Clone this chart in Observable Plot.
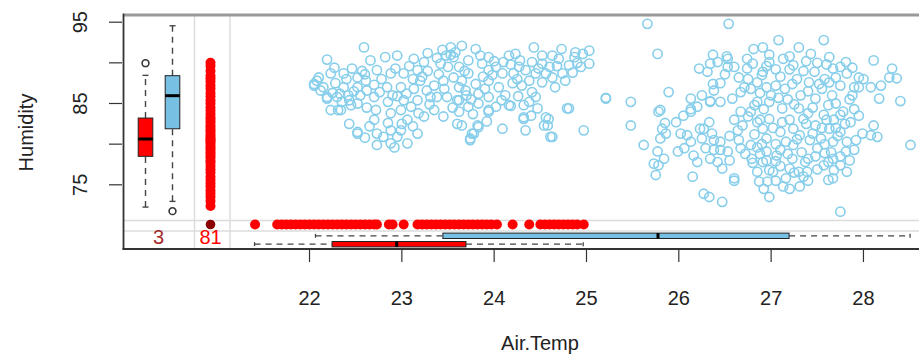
<!DOCTYPE html>
<html><head><meta charset="utf-8">
<script src="https://cdn.jsdelivr.net/npm/d3@7"></script>
<script src="https://cdn.jsdelivr.net/npm/@observablehq/plot@0.6"></script>
<style>
body{margin:0;background:#fff}
#chart{width:919px;height:363px;overflow:hidden}
svg{overflow:hidden}
</style>
</head><body><div id="chart"></div>
<script>
// ---- data ----
// observed pairs [Air.Temp, Humidity]
const observed = [
[22.59,91.9],[22.19,90.4],[22.05,87.4],[22.10,88.2],[22.23,88.7],[22.37,88.7],[22.46,89.3],[22.52,88.2],[22.61,87.8],
[22.19,85.8],[22.30,85.8],[22.43,85.4],[22.52,85.0],[22.23,84.2],[22.34,84.2],[22.43,82.5],[22.52,81.5],[22.66,90.3],
[22.82,90.7],[22.95,90.9],[23.13,90.5],[23.24,90.1],[22.73,89.1],[22.88,88.7],[23.02,88.7],[23.17,89.1],[22.84,87.0],
[22.99,87.0],[23.13,86.8],[22.70,85.8],[23.02,85.4],[23.17,85.4],[23.31,85.8],[22.72,84.2],[22.70,83.0],[22.88,83.8],
[22.99,84.2],[23.06,83.0],[22.73,81.3],[22.88,81.7],[22.99,81.7],[23.17,81.3],[22.73,79.9],[22.88,80.1],[23.06,80.1],
[22.80,80.9],[22.95,80.9],[23.24,83.4],[23.35,84.2],[23.42,89.9],[23.53,91.9],[23.56,90.7],[23.45,87.8],[23.56,88.2],
[23.38,85.8],[23.49,85.8],[23.60,85.4],[23.45,83.4],[23.60,82.5],[22.52,87.0],[22.37,87.0],[22.62,86.6],[22.12,86.6],
[22.52,81.3],[23.74,80.7],[23.78,81.3],[23.65,82.3],[23.82,82.3],[23.94,84.0],[24.09,81.9],[24.18,84.7],[24.34,81.7],
[24.32,83.3],[24.56,83.3],[24.58,82.3],[24.61,80.9],[24.79,84.4],[24.97,81.7],[25.21,85.7],
[22.05,87.2],[22.08,87.8],[22.19,85.6],[22.31,84.2],[22.28,87.5],[22.40,88.0],[22.33,86.2],[22.48,86.5],[22.57,89.0],
[22.45,84.8],[22.27,89.4],[22.62,84.5],[22.78,88.0],[22.93,89.3],[23.08,89.6],[23.20,87.8],[22.90,86.0],[23.10,84.6],
[23.27,86.6],[23.22,88.3],[23.40,88.6],[23.50,89.5],[23.62,87.0],[23.46,86.8],[23.35,87.2],[23.70,86.0],[23.55,84.5],
[23.68,89.0],[23.48,90.9],[23.58,91.3],
[22.15,87.0],[22.25,86.3],[22.35,85.2],[22.42,86.0],[22.55,86.0],[22.60,88.6],[22.70,87.3],[22.76,86.4],[22.85,85.2],
[22.95,85.9],[23.05,86.2],[23.12,88.0],[23.28,89.0],[23.30,84.9],[23.18,83.8],[23.00,82.5],[22.85,82.6],[22.65,82.2],
[23.12,82.2],[22.60,80.8],[22.92,79.6],[23.38,90.6],[23.28,91.2],[23.44,91.6],[23.85,90.9],[23.98,88.5],[24.10,90.1],
[24.25,88.0],[24.48,89.3],[24.68,89.6],[24.88,91.3],[24.73,91.7],[24.20,87.5],[23.90,86.8],[24.08,85.4],[24.26,85.9],
[23.77,83.7],[23.92,82.8],
[23.65,92.1],[23.80,91.7],[23.72,90.3],[23.53,91.0],[23.94,90.7],[24.02,89.5],[24.16,90.9],[24.23,91.1],[24.43,91.9],
[24.52,90.9],[24.63,90.9],[24.70,90.5],[24.87,90.7],[24.96,91.1],[25.03,91.5],[25.03,89.9],[24.94,89.5],[24.81,89.7],
[24.74,88.7],[24.63,88.2],[24.66,87.0],[24.77,87.8],[24.52,89.9],[24.41,90.1],[24.34,89.1],[24.27,89.5],[24.21,88.7],
[24.45,88.7],[24.56,88.7],[24.38,87.8],[24.52,87.6],[24.09,88.7],[23.94,89.1],[23.87,89.9],[23.72,88.7],[23.62,89.5],
[23.65,87.8],[23.80,87.4],[23.94,87.8],[23.69,86.6],[23.83,86.2],[23.94,85.8],[23.62,85.4],[23.72,84.6],[23.83,85.0],
[24.41,86.4],[24.45,85.8],[24.38,85.2],[24.32,84.8],[24.16,84.8],[23.94,84.2],[23.62,84.0],[23.83,82.1],[23.76,81.3],
[23.74,80.5],[24.32,83.1],[24.54,82.3],[24.59,83.1],[24.63,80.9],[24.81,84.4],[25.21,85.6],
[24.05,87.0],[24.12,86.0],[23.88,88.3],[24.30,87.2],[24.60,89.5],[24.90,90.0],[24.85,88.8],[24.28,90.3],[24.00,90.2],
[24.18,89.8],[23.75,85.5],[24.02,84.6],[24.47,84.4],[24.40,83.5],
[25.66,94.8],[26.54,94.8],[25.77,91.1],[25.48,85.2],[25.89,86.4],[25.78,84.0],[25.48,82.3],[25.62,79.9],[25.97,82.7],
[25.82,81.9],[25.86,81.3],[25.80,80.7],[25.77,79.1],[25.73,77.6],[25.75,76.2],[25.84,78.2],[25.99,79.1],[26.02,81.3],
[26.09,81.1],[26.13,80.3],[26.06,79.5],[26.16,78.6],[26.20,77.8],[26.15,76.0],[26.13,85.6],[26.13,84.0],[26.22,89.3],
[26.31,88.9],[26.34,89.9],[26.42,90.1],[26.53,90.5],[26.53,89.5],[26.60,89.5],[26.38,86.6],[26.34,85.2],[26.45,85.2],
[26.33,82.7],[26.27,81.9],[26.36,81.3],[26.38,80.5],[26.29,79.5],[26.38,79.3],[26.45,79.3],[26.53,79.1],[26.34,78.2],
[26.42,77.8],[26.47,77.0],[26.27,73.9],[26.33,73.5],[26.47,72.9],[26.60,75.8],[26.58,85.6],[26.67,86.4],[26.71,87.0],
[26.67,84.0],[26.69,82.3],[26.64,81.7],[26.65,80.5],[26.67,79.5],[26.78,79.9],[26.79,78.2],[26.85,76.6],[26.87,75.4],
[26.74,90.5],[26.81,91.7],[26.74,89.3],[26.85,87.6],[26.78,86.8],[26.85,85.2],[26.78,84.0],[26.85,82.7],
[25.78,77.4],[25.80,84.2],[26.13,84.3],[25.85,82.6],[26.23,81.9],[26.37,91.0],[26.52,90.8],[26.37,87.4],[26.34,85.3],
[26.60,75.5],[26.80,77.7],
[26.75,88.0],[26.90,88.5],[26.95,87.0],[27.00,86.0],[26.92,84.3],[26.88,83.0],[27.02,82.0],[26.95,80.7],[27.05,80.0],
[27.10,81.5],[27.20,83.0],[27.18,85.5],[27.15,86.8],[27.28,88.0],[27.35,89.0],[27.40,86.5],[27.45,84.5],[27.38,82.5],
[27.55,82.0],[27.60,83.0],[27.70,82.0],[27.58,80.0],[27.65,79.0],[27.72,81.0],[27.80,82.5],[27.78,84.0],[27.85,85.5],
[27.70,85.0],[27.55,86.8],[27.88,86.0],[27.95,87.0],[28.00,88.0],[27.75,89.5],[27.50,90.0],[27.20,90.8],[27.05,89.2],
[26.98,91.0],[27.58,88.0],[27.42,80.5],[27.48,78.5],[27.62,77.8],[27.33,79.0],[27.18,78.8],[27.10,77.3],[27.25,76.5],
[27.85,78.0],[27.92,80.5],[27.95,83.5],[26.82,81.2],[26.95,78.0],[26.85,79.6],[27.05,75.5],[27.20,74.5],[26.92,74.5],
[26.98,76.8],[27.40,75.5],[27.68,76.8],
[26.80,89.9],[26.95,89.6],[27.10,88.3],[27.20,89.2],[27.38,90.2],[27.60,89.8],[27.70,88.2],[27.88,89.4],[27.52,87.4],
[27.32,86.0],[27.08,85.7],[26.88,86.3],[26.82,84.8],[27.25,84.9],[27.40,83.8],[27.62,84.8],[27.90,84.3],[27.68,83.0],
[27.45,81.3],[27.28,80.6],[27.10,79.3],[26.90,80.0],[27.40,78.2],[27.58,78.9],[27.75,78.5],[27.90,79.3],[27.50,76.9],
[27.20,77.0],[27.05,77.9],[26.88,78.8],[27.62,75.6],[27.35,76.0],[26.75,83.4],[26.60,83.0],[26.55,81.0],[26.72,78.8],
[26.50,88.6],[26.65,88.2],[26.45,87.5],[26.25,86.0],[26.20,84.6],[26.05,83.5],[26.45,80.3],[26.55,78.0],[26.25,80.7],
[27.08,92.8],[27.57,92.8],[27.75,71.7],[28.11,90.3],[28.31,89.3],[28.36,88.1],[28.28,88.2],[28.19,87.2],[28.08,87.0],
[28.17,85.6],[28.40,85.3],[27.95,88.2],[28.51,79.9],[28.11,82.3],[28.08,81.1],[28.15,80.9],[27.99,81.3],[27.82,76.6],
[27.67,75.8],[27.31,74.8],[27.13,74.8],[26.98,73.5],[26.96,75.4],[27.30,91.9],[27.43,91.1],[27.63,90.7],[27.81,90.1],
[27.13,90.5],[26.91,91.9],[27.24,89.7],[27.47,88.9],[27.67,89.3],[27.82,88.7],[27.75,87.2],[27.90,87.0],[27.63,87.6],
[27.41,87.6],[27.23,87.4],[27.05,87.2],[26.98,85.2],[27.12,84.4],[27.30,84.4],[27.48,85.6],[27.66,86.0],[27.57,83.6],
[27.75,83.6],[27.86,82.7],[27.48,82.3],[27.63,81.9],[27.75,81.5],[27.54,80.7],[27.67,80.3],[27.82,80.3],[27.50,79.5],
[27.81,79.1],[27.67,78.2],[27.57,77.4],[27.75,77.4],[27.39,76.6],[27.30,76.6],[27.37,77.8],[27.23,78.2],[27.24,79.9],
[27.24,81.9],[27.31,81.1],[27.16,80.3],[27.06,78.6],[26.95,79.1],[26.91,77.8],[27.02,76.6],[27.16,75.8],[26.91,81.9],
[26.98,83.1],[26.91,88.9],[26.98,90.1],[27.35,83.1],[27.12,82.7]
];
// Humidity where Air.Temp is missing
const humidityNoTemp = [72.4,73.0,73.5,73.9,74.3,74.8,75.2,75.6,76.0,76.5,76.9,77.3,77.7,78.0,78.4,78.7,79.0,79.3,79.6,79.9,
  80.2,80.4,80.6,80.8,81.1,81.4,81.7,82.0,82.3,82.7,83.0,83.3,83.7,84.1,84.5,85.0,85.4,85.9,86.3,86.8,87.2,87.7,88.1,88.4,89.0,89.6,90.0];
// Air.Temp where Humidity is missing
const tempNoHumidity = [21.41,21.65,21.70,21.75,21.80,21.85,21.90,21.95,22.00,22.05,22.10,22.15,22.20,22.25,22.30,22.35,
  22.40,22.45,22.50,22.55,22.60,22.65,22.70,22.73,22.86,22.90,23.02,23.17,23.22,23.27,23.32,23.37,23.42,23.47,23.52,
  23.57,23.62,23.67,23.72,23.77,23.82,23.87,23.92,23.97,24.03,24.20,24.38,24.50,24.55,24.60,24.65,24.70,24.75,24.80,
  24.85,24.90,24.97];
// boxplot stats [lowWhisker, Q1, median, Q3, highWhisker]
const humBoxMissing = [72.2, 78.44, 80.57, 83.15, 88.4];
const humOutMissing = [89.9];
const humBoxObserved = [72.9, 81.83, 85.9, 88.36, 94.5];
const humOutObserved = [71.7];
const tempBoxObserved = [22.07, 23.45, 25.78, 27.2, 28.51];
const tempBoxMissing = [21.41, 22.25, 22.95, 23.70, 24.97];
const countLabels = ["3", "81"];   // both missing, Air.Temp missing
const xTicks = [22, 23, 24, 25, 26, 27, 28];
const yTicks = [75, 80, 85, 90, 95];
const yLabels = [75, 85, 95];

const SKY = "#87CEEB", RED = "#FF0000", DARKRED = "#8B0000";
const font = "Liberation Sans, Arial, Helvetica, sans-serif";
const FS = 20;

const chart = Plot.plot({
  width: 919, height: 363,
  marginLeft: 124, marginRight: 0, marginTop: 15, marginBottom: 114,
  style: {fontFamily: font, fontSize: FS + "px", background: "white", color: "#222"},
  x: {domain: [19.996, 28.607]},
  y: {domain: [67.042, 95.824]},
  marks: [
    Plot.axisX({ticks: xTicks, tickSize: 13, tickPadding: 28, label: null, fontSize: FS, stroke: "#333", strokeWidth: 1.2}),
    Plot.axisY({ticks: yTicks, tickSize: 13, tickFormat: () => "", label: null, dx: -2, stroke: "#333", strokeWidth: 1.2}),
    Plot.text(yLabels, {y: d => d, text: d => String(d), frameAnchor: "left", textAnchor: "middle", dx: -44, rotate: -90, fontSize: FS, fill: "#222"}),
    Plot.text(["Air.Temp"], {text: d => d, frameAnchor: "bottom", textAnchor: "middle", dy: 100, dx: 18, fontSize: FS, fill: "#222"}),
    Plot.text(["Humidity"], {text: d => d, frameAnchor: "left", textAnchor: "middle", dx: -98, rotate: -90, fontSize: FS, fill: "#222"}),
    Plot.dot(observed, {x: d => d[0], y: d => d[1], r: 4.6, stroke: SKY, strokeWidth: 1.6, fill: "none"}),
    Plot.dot(humidityNoTemp, {y: d => d, frameAnchor: "left", dx: 86, r: 5, fill: RED, stroke: "none"}),
    Plot.dot(tempNoHumidity, {x: d => d, frameAnchor: "bottom", dy: -25, r: 5, fill: RED, stroke: "none"}),
    Plot.dot([countLabels[0]], {frameAnchor: "bottom-left", dx: 86, dy: -25, r: 4.8, fill: DARKRED, stroke: "none"}),
    Plot.text([countLabels[0]], {text: d => d, frameAnchor: "bottom-left", textAnchor: "middle", dx: 34, dy: -6, fontSize: FS, fill: "#A52A2A"}),
    Plot.text([countLabels[1]], {text: d => d, frameAnchor: "bottom-left", textAnchor: "middle", dx: 86, dy: -6, fontSize: FS, fill: RED})
  ]
});
document.getElementById("chart").appendChild(chart);

// ---- margin decorations using Plot's own scales ----
const sx = chart.scale("x"), sy = chart.scale("y");
const X = v => sx.apply(v), Y = v => sy.apply(v);
const svg = d3.select(chart);
const fLeft = 124, fRight = 919, fTop = 15, fBottom = 249;

// light grey separator lines (under everything)
const grid = svg.insert("g", "g");
grid.attr("stroke", "#dcdcdc").attr("stroke-width", 1.5);
[194.5, 230].forEach(px => grid.append("line").attr("x1", px).attr("x2", px).attr("y1", fTop).attr("y2", fBottom));
[220.5, 231].forEach(py => grid.append("line").attr("x1", fLeft).attr("x2", fRight).attr("y1", py).attr("y2", py));

const g = svg.append("g");
const dash = "6,5";
const wcol = "#444";
function vBox(stats, outs, cx, fill) {
  const hw = 7.3;
  g.append("line").attr("x1", cx).attr("x2", cx).attr("y1", Y(stats[0])).attr("y2", Y(stats[1]))
    .attr("stroke", wcol).attr("stroke-dasharray", dash).attr("stroke-width", 1.4);
  g.append("line").attr("x1", cx).attr("x2", cx).attr("y1", Y(stats[3])).attr("y2", Y(stats[4]))
    .attr("stroke", wcol).attr("stroke-dasharray", dash).attr("stroke-width", 1.4);
  [stats[0], stats[4]].forEach(v => g.append("line").attr("x1", cx - 3).attr("x2", cx + 3).attr("y1", Y(v)).attr("y2", Y(v))
    .attr("stroke", wcol).attr("stroke-width", 1.4));
  g.append("rect").attr("x", cx - hw).attr("width", 2 * hw).attr("y", Y(stats[3])).attr("height", Y(stats[1]) - Y(stats[3]))
    .attr("fill", fill).attr("stroke", "#222").attr("stroke-width", 1);
  g.append("line").attr("x1", cx - hw).attr("x2", cx + hw).attr("y1", Y(stats[2])).attr("y2", Y(stats[2]))
    .attr("stroke", "#000").attr("stroke-width", 3);
  outs.forEach(v => g.append("circle").attr("cx", cx).attr("cy", Y(v)).attr("r", 3.4)
    .attr("fill", "none").attr("stroke", "#333").attr("stroke-width", 1.6));
}
function hBox(stats, cy, fill) {
  const hh = 2.7;
  g.append("line").attr("y1", cy).attr("y2", cy).attr("x1", X(stats[0])).attr("x2", X(stats[1]))
    .attr("stroke", wcol).attr("stroke-dasharray", dash).attr("stroke-width", 1.3);
  g.append("line").attr("y1", cy).attr("y2", cy).attr("x1", X(stats[3])).attr("x2", X(stats[4]))
    .attr("stroke", wcol).attr("stroke-dasharray", dash).attr("stroke-width", 1.3);
  [stats[0], stats[4]].forEach(v => g.append("line").attr("y1", cy - 2).attr("y2", cy + 2).attr("x1", X(v)).attr("x2", X(v))
    .attr("stroke", wcol).attr("stroke-width", 1.3));
  g.append("rect").attr("y", cy - hh).attr("height", 2 * hh).attr("x", X(stats[1])).attr("width", X(stats[3]) - X(stats[1]))
    .attr("fill", fill).attr("stroke", "#222").attr("stroke-width", 1);
  g.append("rect").attr("y", cy - hh).attr("height", 2 * hh).attr("x", X(stats[2]) - 1.5).attr("width", 3).attr("fill", "#000");
}
vBox(humBoxMissing, humOutMissing, 145.5, RED);
vBox(humBoxObserved, humOutObserved, 172.5, "#78bfe4");
hBox(tempBoxObserved, 235.8, "#78bfe4");
hBox(tempBoxMissing, 244.2, RED);

// plot box borders
g.append("line").attr("x1", fLeft).attr("x2", fRight).attr("y1", fTop).attr("y2", fTop).attr("stroke", "#9a9a9a").attr("stroke-width", 3);
g.append("line").attr("x1", fLeft - 0.5).attr("x2", fLeft - 0.5).attr("y1", fTop - 1.5).attr("y2", fBottom + 0.5).attr("stroke", "#333").attr("stroke-width", 1.8);
g.append("line").attr("x1", fLeft - 1.5).attr("x2", fRight).attr("y1", fBottom).attr("y2", fBottom).attr("stroke", "#333").attr("stroke-width", 1.8);
</script></body></html>
